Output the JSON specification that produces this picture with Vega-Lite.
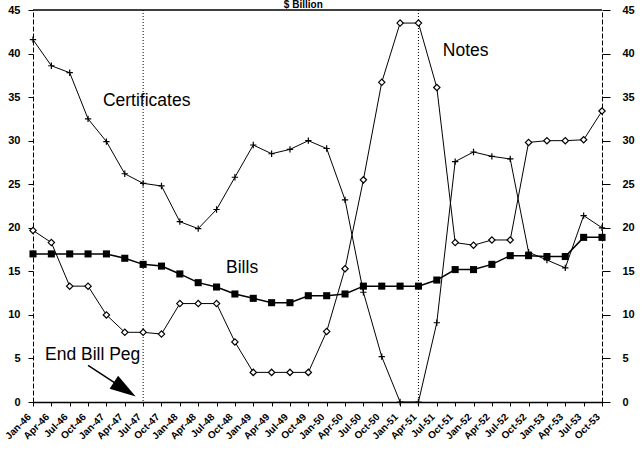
{
  "$schema": "https://vega.github.io/schema/vega-lite/v6.json",
  "width": 569,
  "height": 392,
  "autosize": {"type": "none"},
  "padding": {"left": 33, "top": 10, "right": 41, "bottom": 54},
  "background": "white",
  "config": {
    "view": {"stroke": null},
    "font": "Liberation Sans",
    "axis": {"labelColor": "black", "tickColor": "black", "domainColor": "black", "grid": false, "title": null, "labelFont": "Liberation Sans", "labelFontWeight": "bold"}
  },
  "datasets": {
    "main": [
      {"q": "Jan-46", "certificates": 41.6, "notes": 19.7, "bills": 17.0},
      {"q": "Apr-46", "certificates": 38.6, "notes": 18.3, "bills": 17.0},
      {"q": "Jul-46", "certificates": 37.8, "notes": 13.3, "bills": 17.0},
      {"q": "Oct-46", "certificates": 32.5, "notes": 13.3, "bills": 17.0},
      {"q": "Jan-47", "certificates": 29.9, "notes": 10.0, "bills": 17.0},
      {"q": "Apr-47", "certificates": 26.2, "notes": 8.0, "bills": 16.5},
      {"q": "Jul-47", "certificates": 25.1, "notes": 8.0, "bills": 15.8},
      {"q": "Oct-47", "certificates": 24.8, "notes": 7.8, "bills": 15.6},
      {"q": "Jan-48", "certificates": 20.7, "notes": 11.3, "bills": 14.7},
      {"q": "Apr-48", "certificates": 19.9, "notes": 11.3, "bills": 13.7},
      {"q": "Jul-48", "certificates": 22.1, "notes": 11.3, "bills": 13.2},
      {"q": "Oct-48", "certificates": 25.8, "notes": 6.9, "bills": 12.4},
      {"q": "Jan-49", "certificates": 29.5, "notes": 3.4, "bills": 11.9},
      {"q": "Apr-49", "certificates": 28.5, "notes": 3.4, "bills": 11.4},
      {"q": "Jul-49", "certificates": 29.0, "notes": 3.4, "bills": 11.4},
      {"q": "Oct-49", "certificates": 30.0, "notes": 3.4, "bills": 12.2},
      {"q": "Jan-50", "certificates": 29.1, "notes": 8.1, "bills": 12.2},
      {"q": "Apr-50", "certificates": 23.2, "notes": 15.3, "bills": 12.4},
      {"q": "Jul-50", "certificates": 12.6, "notes": 25.5, "bills": 13.3},
      {"q": "Oct-50", "certificates": 5.2, "notes": 36.7, "bills": 13.3},
      {"q": "Jan-51", "certificates": 0, "notes": 43.5, "bills": 13.3},
      {"q": "Apr-51", "certificates": 0, "notes": 43.5, "bills": 13.3},
      {"q": "Jul-51", "certificates": 9.1, "notes": 36.1, "bills": 14.0},
      {"q": "Oct-51", "certificates": 27.6, "notes": 18.3, "bills": 15.2},
      {"q": "Jan-52", "certificates": 28.7, "notes": 18.0, "bills": 15.2},
      {"q": "Apr-52", "certificates": 28.2, "notes": 18.6, "bills": 15.8},
      {"q": "Jul-52", "certificates": 27.9, "notes": 18.6, "bills": 16.8},
      {"q": "Oct-52", "certificates": 17.2, "notes": 29.8, "bills": 16.8},
      {"q": "Jan-53", "certificates": 16.3, "notes": 30.0, "bills": 16.7},
      {"q": "Apr-53", "certificates": 15.4, "notes": 30.0, "bills": 16.7},
      {"q": "Jul-53", "certificates": 21.4, "notes": 30.1, "bills": 18.9},
      {"q": "Oct-53", "certificates": 20.0, "notes": 33.4, "bills": 18.9}
    ],
    "markers": [{"q": "Jul-47"}, {"q": "Apr-51"}],
    "top": [{"v": 45}],
    "arrow": [{"q": "Oct-46", "q2": "Apr-47", "v": 4.2, "v2": 1.45}],
    "lblTitle": [{"q": "Oct-49", "v": 45, "label": "$ Billion"}],
    "lblCert": [{"q": "Jan-47", "v": 34.6, "label": "Certificates"}],
    "lblNotes": [{"q": "Jul-51", "v": 40.3, "label": "Notes"}],
    "lblBills": [{"q": "Jul-48", "v": 15.4, "label": "Bills"}],
    "lblPeg": [{"q": "Jan-46", "v": 5.4, "label": "End Bill Peg"}]
  },
  "data": {"name": "main"},
  "encoding": {
    "x": {
      "field": "q", "type": "ordinal", "sort": null,
      "scale": {"type": "point", "padding": 0, "domain": ["Jan-46","Apr-46","Jul-46","Oct-46","Jan-47","Apr-47","Jul-47","Oct-47","Jan-48","Apr-48","Jul-48","Oct-48","Jan-49","Apr-49","Jul-49","Oct-49","Jan-50","Apr-50","Jul-50","Oct-50","Jan-51","Apr-51","Jul-51","Oct-51","Jan-52","Apr-52","Jul-52","Oct-52","Jan-53","Apr-53","Jul-53","Oct-53"]},
      "axis": {"labelAngle": -45, "labelFontSize": 10, "tickSize": 4, "domainWidth": 1.5, "labelAlign": "right", "labelBaseline": "middle", "labelPadding": 9, "labelOffset": -4}
    }
  },
  "resolve": {"axis": {"y": "independent"}},
  "layer": [
    {
      "data": {"name": "top"},
      "mark": {"type": "rule", "color": "black", "strokeWidth": 1.5},
      "encoding": {"x": null, "y": {"field": "v", "type": "quantitative", "scale": {"domain": [0, 45], "nice": false}, "axis": null}}
    },
    {
      "data": {"name": "markers"},
      "mark": {"type": "rule", "color": "black", "strokeWidth": 1, "strokeDash": [1, 2]},
      "encoding": {}
    },
    {
      "mark": {"type": "line", "color": "black", "strokeWidth": 1},
      "encoding": {"y": {"field": "certificates", "type": "quantitative", "scale": {"domain": [0, 45], "nice": false},
        "axis": {"orient": "left", "values": [0,5,10,15,20,25,30,35,40,45], "tickSize": 5, "labelPadding": 8, "labelFontSize": 11, "domainDash": [5, 2], "domainWidth": 1}}}
    },
    {
      "mark": {"type": "point", "shape": "M -1 0 L 1 0 M 0 -1 L 0 1", "filled": false, "stroke": "black", "strokeWidth": 1.2, "size": 40, "opacity": 1},
      "encoding": {"y": {"field": "certificates", "type": "quantitative", "axis": null}}
    },
    {
      "mark": {"type": "line", "color": "black", "strokeWidth": 1},
      "encoding": {"y": {"field": "notes", "type": "quantitative", "axis": null}}
    },
    {
      "mark": {"type": "point", "shape": "diamond", "filled": true, "fill": "white", "stroke": "black", "strokeWidth": 1.2, "size": 40, "opacity": 1},
      "encoding": {"y": {"field": "notes", "type": "quantitative", "axis": null}}
    },
    {
      "mark": {"type": "line", "color": "black", "strokeWidth": 1.5},
      "encoding": {"y": {"field": "bills", "type": "quantitative",
        "axis": {"orient": "right", "values": [0,5,10,15,20,25,30,35,40,45], "tickSize": 8, "labelPadding": 12, "labelFontSize": 11, "domainDash": [5, 2], "domainWidth": 1}}}
    },
    {
      "mark": {"type": "point", "shape": "square", "filled": true, "color": "black", "size": 50, "opacity": 1},
      "encoding": {"y": {"field": "bills", "type": "quantitative", "axis": null}}
    },
    {
      "data": {"name": "lblTitle"},
      "mark": {"type": "text", "align": "center", "baseline": "alphabetic", "dx": -5, "dy": -2, "fontSize": 10, "fontWeight": "bold", "font": "Liberation Sans", "color": "black"},
      "encoding": {"y": {"field": "v", "type": "quantitative", "axis": null}, "text": {"field": "label"}}
    },
    {
      "data": {"name": "lblCert"},
      "mark": {"type": "text", "align": "left", "baseline": "middle", "dx": -3.5, "fontSize": 17.5, "font": "Liberation Sans", "color": "black"},
      "encoding": {"y": {"field": "v", "type": "quantitative", "axis": null}, "text": {"field": "label"}}
    },
    {
      "data": {"name": "lblNotes"},
      "mark": {"type": "text", "align": "left", "baseline": "middle", "dx": 6, "fontSize": 17.5, "font": "Liberation Sans", "color": "black"},
      "encoding": {"y": {"field": "v", "type": "quantitative", "axis": null}, "text": {"field": "label"}}
    },
    {
      "data": {"name": "lblBills"},
      "mark": {"type": "text", "align": "left", "baseline": "middle", "dx": 9.5, "fontSize": 17.5, "font": "Liberation Sans", "color": "black"},
      "encoding": {"y": {"field": "v", "type": "quantitative", "axis": null}, "text": {"field": "label"}}
    },
    {
      "data": {"name": "lblPeg"},
      "mark": {"type": "text", "align": "left", "baseline": "middle", "dx": 12, "fontSize": 17.5, "font": "Liberation Sans", "color": "black"},
      "encoding": {"y": {"field": "v", "type": "quantitative", "axis": null}, "text": {"field": "label"}}
    },
    {
      "data": {"name": "arrow"},
      "mark": {"type": "rule", "color": "black", "strokeWidth": 1.5},
      "encoding": {"y": {"field": "v", "type": "quantitative", "axis": null}, "x2": {"field": "q2"}, "y2": {"field": "v2"}}
    },
    {
      "data": {"name": "arrow"},
      "mark": {"type": "point", "shape": "M -1 -0.6 L 1 0 L -1 0.6 Z", "filled": true, "color": "black", "size": 676, "angle": 33, "opacity": 1},
      "encoding": {"x": {"field": "q2", "type": "ordinal"}, "y": {"field": "v2", "type": "quantitative", "axis": null}}
    }
  ]
}
